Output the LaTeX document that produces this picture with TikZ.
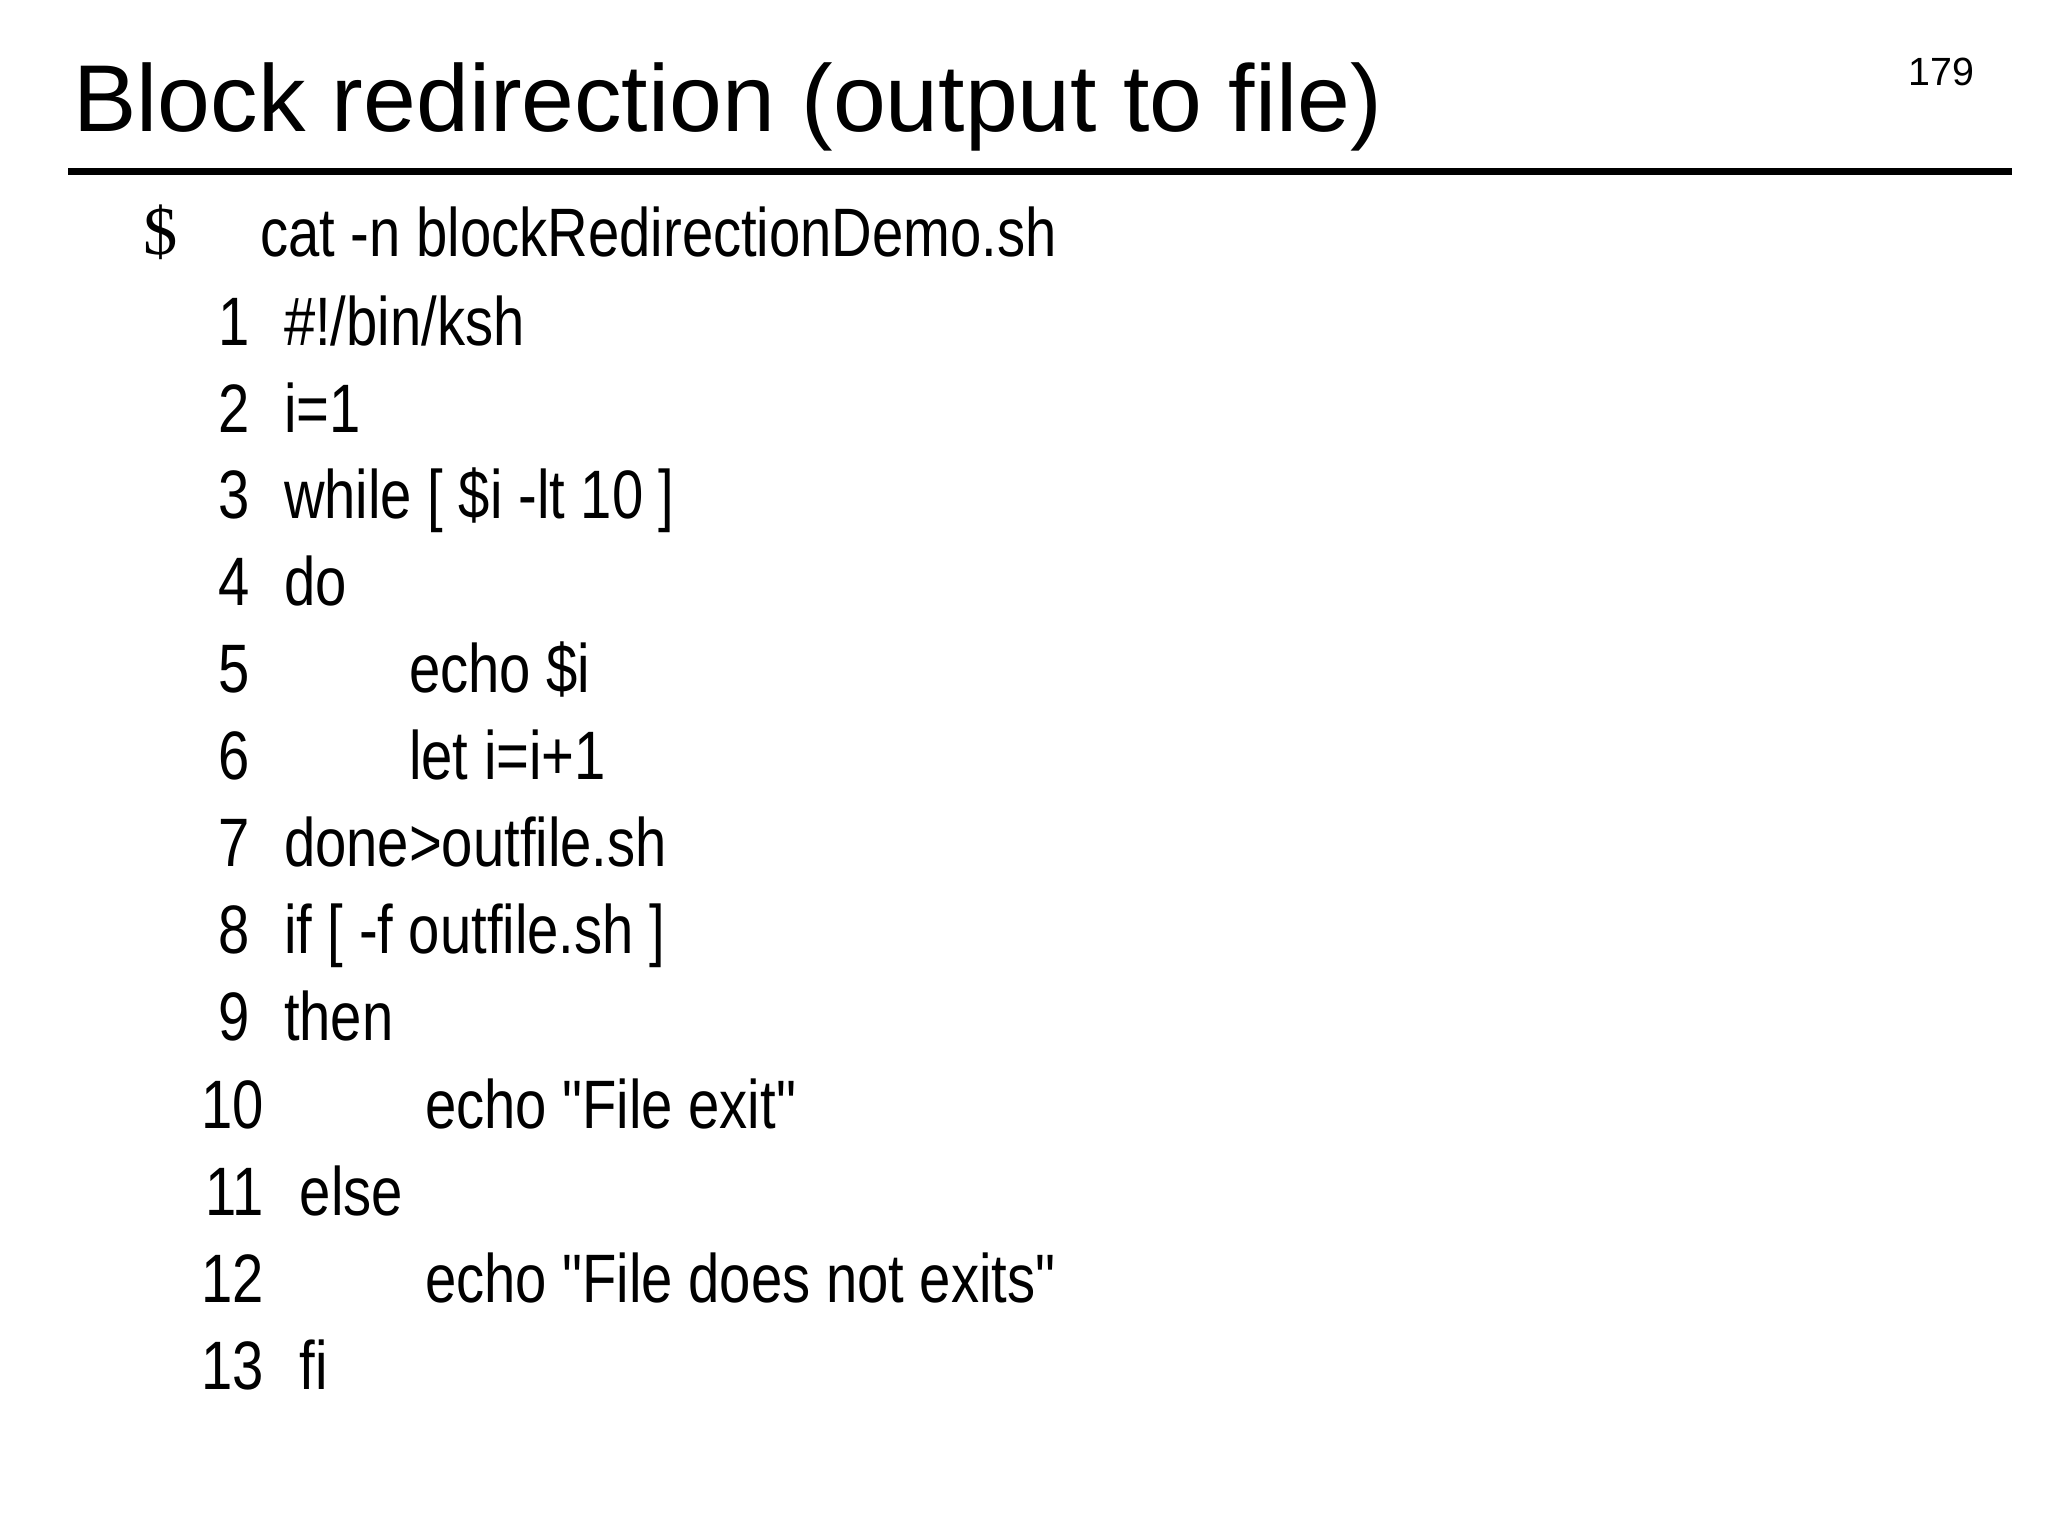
\documentclass[tikz,border=0pt]{standalone}
\usepackage{fontspec}
\setmainfont{Liberation Sans}
\newfontfamily\narrowf[FakeStretch=0.82]{Liberation Sans}
\newfontfamily\seriff{Liberation Serif}
\begin{document}
\begin{tikzpicture}[x=0.01cm,y=-0.01cm,
  code/.style={inner sep=0pt,font=\narrowf\fontsize{14.8pt}{16pt}\selectfont},
  num/.style={code,anchor=base east},
  txt/.style={code,anchor=base west}]
\useasboundingbox (0,0) rectangle (1555,1166);
\node[anchor=base west,inner sep=0pt,font=\fontsize{20.5pt}{24pt}\selectfont] (title) at (55,100) {Block redirection (output to file)};
\node[anchor=base east,inner sep=0pt,font=\fontsize{8.5pt}{10pt}\selectfont] (page) at (1500,65) {179};
\coordinate (rl) at (52,130); \coordinate (rr) at (1528,130);
\draw[line width=0.05cm] (rl) -- (rr);
\node[anchor=base west,inner sep=0pt,font=\seriff\fontsize{14.8pt}{16pt}\selectfont] (dollar) at (108,193) {\$};
\node[txt] (cmd) at (197,195) {cat -n blockRedirectionDemo.sh};
\foreach \n/\y/\x/\t in {1/262/215/{\#!/bin/ksh},2/328/215/{i=1},3/394/215/{while [ \$i -lt 10 ]},4/460/215/{do},5/526/310/{echo \$i},6/592/310/{let i=i+1},7/658/215/{done>outfile.sh},8/724/215/{if [ -f outfile.sh ]},9/790/215/{then},10/857/322/{echo "File exit"},11/923/227/{else},12/989/322/{echo "File does not exits"},13/1055/227/{fi}}{
  \node[num] (n\n) at (190+\n/10*10-\n/10*10,\y) {};
}
\foreach \n/\y/\x/\t in {1/262/215/{\#!/bin/ksh},2/328/215/{i=1},3/394/215/{while [ \$i -lt 10 ]},4/460/215/{do},5/526/310/{echo \$i},6/592/310/{let i=i+1},7/658/215/{done>outfile.sh},8/724/215/{if [ -f outfile.sh ]},9/790/215/{then},10/857/322/{echo "File exit"},11/923/227/{else},12/989/322/{echo "File does not exits"},13/1055/227/{fi}}{
  \node[num] (k\n) at (\ifnum\n>9 201\else 190\fi,\y) {\n};
  \node[txt] (l\n) at (\x,\y) {\t};
}
\end{tikzpicture}
\end{document}
